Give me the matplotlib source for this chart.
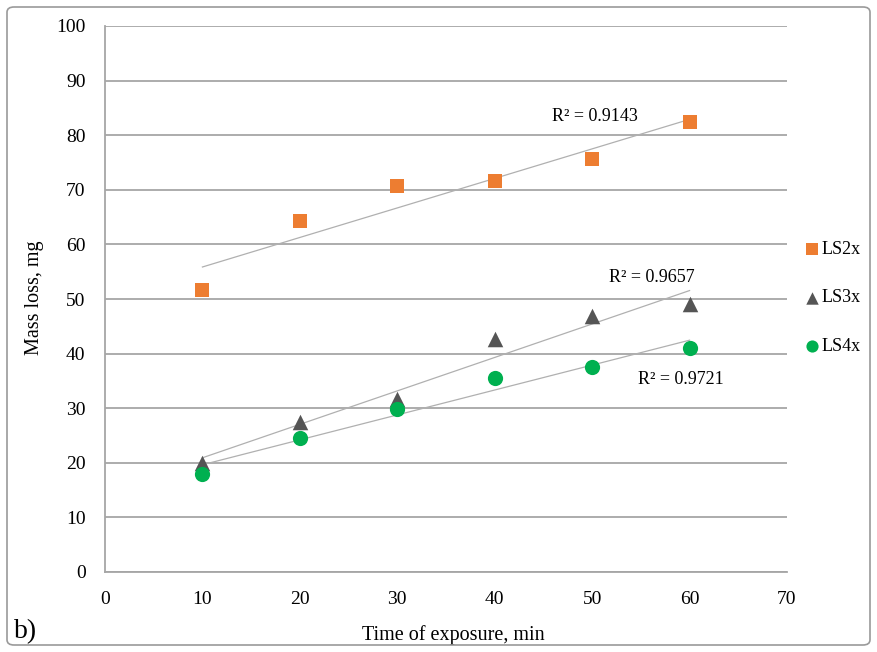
import numpy as np
import matplotlib
matplotlib.use("Agg")
import matplotlib.pyplot as plt
from matplotlib.patches import FancyBboxPatch

plt.rcParams['font.family'] = ['Liberation Serif', 'DejaVu Serif']

time_min = [10, 20, 30, 40, 50, 60]
ls2x = [51.6, 64.3, 70.7, 71.6, 75.6, 82.5]
ls3x = [19.9, 27.5, 31.6, 42.6, 46.8, 49.0]
ls4x = [18.0, 24.5, 29.8, 35.5, 37.5, 41.0]
series_names = ["LS2x", "LS3x", "LS4x"]
r2_labels = ["R² = 0.9143", "R² = 0.9657", "R² = 0.9721"]
r2_pos = [(50.3, 83.5), (56.1, 54.0), (59.1, 35.2)]

fig = plt.figure(figsize=(8.78, 6.52), dpi=100)
ax = fig.add_axes([105/878, 80/652, 682/878, 546/652])

border = FancyBboxPatch((7/878, 7/652), 863/878, 638/652,
                        boxstyle="round,pad=0,rounding_size=0.008",
                        transform=fig.transFigure, fill=False,
                        edgecolor="#9a9a9a", linewidth=1.2, zorder=0)
fig.patches.append(border)

colors = ["#ED7D31", "#555555", "#00B050"]
markers = ["s", "^", "o"]
sizes = [115, 125, 120]
data = [ls2x, ls3x, ls4x]
x = np.array(time_min)
for vals, c, m, sz, name in zip(data, colors, markers, sizes, series_names):
    coef = np.polyfit(x, vals, 1)
    xx = np.array([x.min(), x.max()])
    ax.plot(xx, np.polyval(coef, xx), color="#b0b0b0", lw=0.9, zorder=2)
    ax.scatter(x, vals, marker=m, s=sz, color=c, zorder=3, label=name,
               linewidths=0)

for lab, (px, py) in zip(r2_labels, r2_pos):
    ax.text(px, py, lab, ha="center", va="center", fontsize=13)

ax.set_xlim(0, 70)
ax.set_ylim(0, 100)
ax.set_xticks(range(0, 71, 10))
ax.set_yticks(range(0, 101, 10))
ax.yaxis.grid(True, color="#a6a6a6", lw=1.3)
ax.set_axisbelow(True)
for s in ["top", "right"]:
    ax.spines[s].set_visible(False)
for s in ["left", "bottom"]:
    ax.spines[s].set_color("#a6a6a6")
    ax.spines[s].set_linewidth(1.3)
ax.tick_params(length=0, labelsize=14)
ax.tick_params(axis="y", pad=14)
ax.tick_params(axis="x", pad=14)
ax.set_xlabel("Time of exposure, min", fontsize=14.5)
ax.set_ylabel("Mass loss, mg", fontsize=14.5)
ax.xaxis.set_label_coords(0.51, -0.097)
ax.yaxis.set_label_coords(-0.09, 0.502)

leg = ax.legend(loc="center left", bbox_to_anchor=(1.0, 0.502), frameon=False,
                fontsize=13, labelspacing=1.75, handletextpad=0.0,
                markerscale=0.8, handlelength=1.0)

fig.text(14, 20, "b)", transform=None, fontsize=20, va="center")

fig.savefig("out.png", dpi=100)
